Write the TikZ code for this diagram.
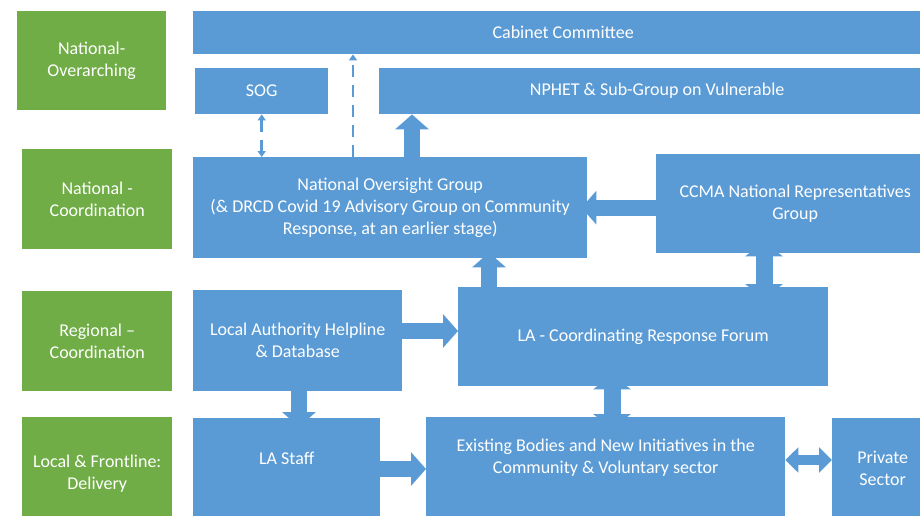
\documentclass[tikz,border=0pt]{standalone}
\usepackage{fontspec}
\setmainfont{Carlito}
\usetikzlibrary{arrows.meta}

\definecolor{boxblue}{HTML}{5B9BD5}
\definecolor{boxgreen}{HTML}{70AD47}

\begin{document}
\begin{tikzpicture}[x=1pt, y=-1pt, font=\fontsize{18}{22}\selectfont,
    level/.style = {fill=boxgreen, text=white, align=center, anchor=north west, inner sep=0pt},
    unit/.style = {fill=boxblue, text=white, align=center, anchor=north west, inner sep=0pt},
    raised/.style = {text=white, align=center, yshift=10pt},
    blk/.style = {draw=boxblue, line width=16pt, -{Triangle[width=33pt, length=15pt]}},
    dblk/.style = {draw=boxblue, line width=17pt, {Triangle[width=37pt, length=15pt]}-{Triangle[width=37pt, length=15pt]}},
    pair/.style = {draw=boxblue, line width=10pt, {Triangle[width=25pt, length=13pt]}-{Triangle[width=25pt, length=13pt]}},
    link/.style = {draw=boxblue, line width=2.5pt, dash pattern=on 12pt off 8pt}]

    \useasboundingbox (0,0) rectangle (920,516);
    \clip (0,0) rectangle (920,516);

    % levels
    \node[level, minimum width=149pt, minimum height=99pt] (lv1) at (17,11) {National-\\Overarching};
    \node[level, minimum width=150pt, minimum height=100pt] (lv2) at (22,149) {National -\\Coordination};
    \node[level, minimum width=150pt, minimum height=100pt] (lv3) at (22,291) {Regional --\\Coordination};
    \node[level, minimum width=150pt, minimum height=112pt] (lv4) at (22,417) {Local \& Frontline:\\Delivery};

    % national
    \node[unit, minimum width=740pt, minimum height=43pt] (cab) at (193,11) {Cabinet Committee};
    \node[unit, minimum width=133pt, minimum height=46pt] (sog) at (195,68) {SOG};
    \node[unit, minimum width=556pt, minimum height=46pt] (nphet) at (379,68) {NPHET \& Sub-Group on Vulnerable};
    \node[unit, minimum width=394pt, minimum height=101pt] (nog) at (193,157)
        {National Oversight Group\\(\& DRCD Covid 19 Advisory Group on Community\\Response, at an earlier stage)};
    \node[unit, minimum width=278pt, minimum height=99pt] (ccma) at (656,154) {CCMA National Representatives\\Group};

    % regional
    \node[unit, minimum width=209pt, minimum height=101pt] (help) at (193,290) {Local Authority Helpline\\\& Database};
    \node[unit, minimum width=370pt, minimum height=99pt] (forum) at (458,287) {LA - Coordinating Response Forum};

    % local (text sits a little above the middle)
    \node[unit, minimum width=187pt, minimum height=100pt,
          label={[raised]center:LA Staff}] (staff) at (193,418) {};
    \node[unit, minimum width=359pt, minimum height=100pt,
          label={[raised]center:Existing Bodies and New Initiatives in the\\Community \& Voluntary sector}] (exist) at (426,417) {};
    \node[unit, minimum width=101pt, minimum height=100pt] (priv) at (832,418) {Private\\Sector};

    % x and y of the connectors
    \coordinate (d1) at (353,0);
    \coordinate (b1) at (412,0);
    \coordinate (b2) at (489,0);
    \coordinate (b3) at (764,0);
    \coordinate (b4) at (612,0);
    \coordinate (b5) at (299,0);
    \coordinate (h1) at (0,331);
    \coordinate (h2) at (0,469);
    \coordinate (h3) at (0,460);

    % dashed links
    \draw[link, {Triangle[width=8pt, length=6pt]}-{Triangle[width=8pt, length=6pt]}] (sog.south) -- (sog.south |- nog.north);
    \draw[link, -{Triangle[width=8pt, length=6pt]}] (nog.north -| d1) -- (cab.south -| d1);

    % block arrows
    \draw[blk] (nog.north -| b1) -- (nphet.south -| b1);
    \draw[blk, shorten >=-6pt] (forum.north -| b2) -- (nog.south -| b2);
    \draw[blk, shorten >=-6pt] (ccma.west |- nog.east) -- (nog.east);
    \draw[blk] (help.east |- h1) -- (forum.west |- h1);
    \draw[blk, shorten >=-9pt] (help.south -| b5) -- (staff.north -| b5);
    \draw[blk] (staff.east |- h2) -- (exist.west |- h2);
    \draw[dblk, shorten <=-12pt, shorten >=-12pt] (ccma.south -| b3) -- (forum.north -| b3);
    \draw[dblk, shorten <=-12pt, shorten >=-12pt] (forum.south -| b4) -- (exist.north -| b4);
    \draw[pair] (exist.east |- h3) -- (priv.west |- h3);
\end{tikzpicture}
\end{document}
